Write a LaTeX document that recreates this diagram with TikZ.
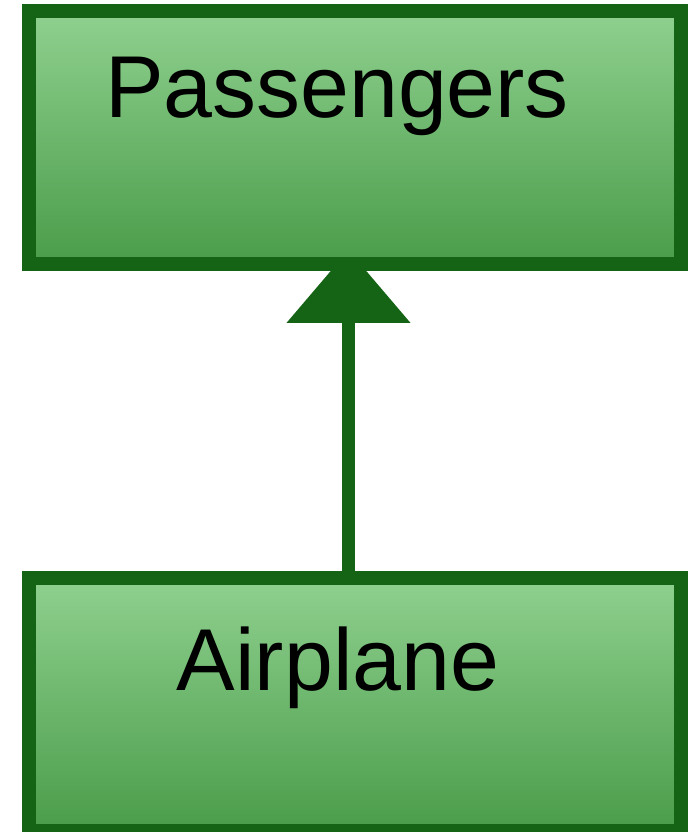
\documentclass[tikz,border=0pt]{standalone}
\usepackage{fontspec}
\setmainfont{Liberation Sans}
\usetikzlibrary{arrows.meta,backgrounds}

\definecolor{umlborder}{RGB}{21,99,21}
\definecolor{umltop}{RGB}{143,208,143}
\definecolor{umlbottom}{RGB}{74,156,74}

\begin{document}
\begin{tikzpicture}[x=0.02cm, y=-0.02cm,
        classbox/.style={draw=umlborder, line width=0.28cm, top color=umltop, bottom color=umlbottom,
            minimum width=13.04cm, minimum height=5.06cm, inner sep=0pt},
        classname/.style={anchor=base, inner sep=0pt, font=\fontsize{50}{50}\selectfont},
        generalize/.style={draw=umlborder, line width=0.26cm, -{Triangle[length=1.46cm, width=2.42cm]}}]
            \useasboundingbox (0,0) rectangle (693,832);

            \node[classbox] (passengers) at (355,137.5) {};
            \node[classname] (passengersname) at (337,117) {Passengers};

            \node[classbox] (airplane) at (355,704.5) {};
            \node[classname] (airplanename) at (338,690) {Airplane};

            \begin{scope}[on background layer]
                \draw[generalize, shorten >=-0.42cm] ([xshift=-0.13cm]airplane.north) -- ([xshift=-0.13cm]passengers.south);
            \end{scope}
        \end{tikzpicture}
\end{document}
